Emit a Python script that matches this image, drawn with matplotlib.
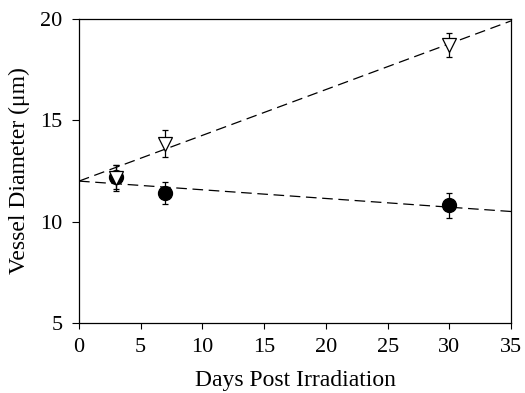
import matplotlib
matplotlib.use('Agg')
import matplotlib.pyplot as plt

# 照射後日数と血管径（読み取り値）
days = [3, 7, 30]
irr_mean = [12.15, 13.85, 18.7]
irr_err = [0.65, 0.65, 0.6]
ctl_mean = [12.2, 11.4, 10.8]
ctl_err = [0.6, 0.55, 0.62]

# 回帰直線（両方とも 0日で 12）
fit_x = [0, 35]
irr_fit = [12.0, 19.9]
ctl_fit = [12.0, 10.5]

plt.rcParams['font.family'] = ['Liberation Serif', 'DejaVu Serif']

fig = plt.figure(figsize=(5.25, 3.93), dpi=100)
ax = fig.add_axes([0.1505, 0.178, 0.823, 0.774])

dash = (0, (8.5, 4.5))
ax.plot(fit_x, irr_fit, color='black', lw=0.9, linestyle=dash, zorder=1)
ax.plot(fit_x, ctl_fit, color='black', lw=0.9, linestyle=dash, zorder=1)

ax.errorbar(days, ctl_mean, yerr=ctl_err, fmt='o', color='black',
            markersize=10, ecolor='black', elinewidth=0.9, capsize=2.2,
            capthick=0.9, zorder=2)
ax.errorbar(days, irr_mean, yerr=irr_err, fmt='v', color='black',
            markerfacecolor='white', markeredgecolor='black', markeredgewidth=0.9,
            markersize=10, ecolor='black', elinewidth=0.9, capsize=2.2,
            capthick=0.9, zorder=3)

ax.set_xlim(0, 35)
ax.set_ylim(5, 20)
ax.set_xticks([0, 5, 10, 15, 20, 25, 30, 35])
ax.set_yticks([5, 10, 15, 20])
ax.tick_params(direction='out', width=0.8, labelsize=16,
               top=False, right=False)
ax.tick_params(axis='y', length=5, pad=7)
ax.tick_params(axis='x', length=4, pad=7)
for s in ax.spines.values():
    s.set_linewidth(0.9)

ax.set_xlabel('Days Post Irradiation', fontsize=17, labelpad=9)
ax.set_ylabel('Vessel Diameter (\u03bcm)', fontsize=17, labelpad=7)

plt.savefig('out.png', dpi=100)
